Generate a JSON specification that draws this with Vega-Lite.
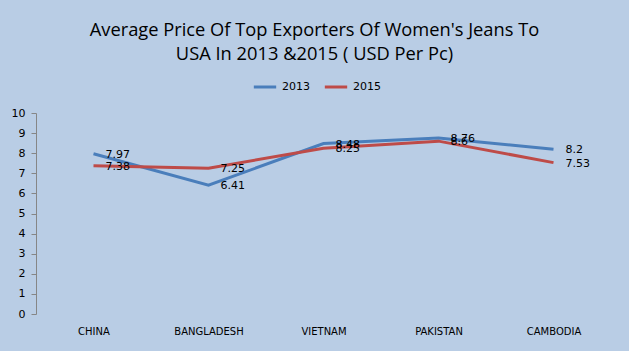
{
  "$schema": "https://vega.github.io/schema/vega-lite/v6.json",
  "width": 575,
  "height": 201,
  "autosize": {"type": "none"},
  "padding": {"left": 36, "top": 113, "right": 18, "bottom": 37},
  "background": "#B9CDE5",
  "title": {
    "text": ["Average Price Of Top Exporters Of Women's Jeans To", "USA In 2013 &2015 ( USD Per Pc)"],
    "font": "Open Sans",
    "fontSize": 18.3,
    "fontWeight": "normal",
    "color": "#000000",
    "anchor": "middle",
    "dx": -9,
    "offset": 52,
    "dy": 42,
    "lineHeight": 24
  },
  "data": {
    "values": [
      {"country": "CHINA", "year": "2013", "price": 7.97},
      {"country": "BANGLADESH", "year": "2013", "price": 6.41},
      {"country": "VIETNAM", "year": "2013", "price": 8.48},
      {"country": "PAKISTAN", "year": "2013", "price": 8.76},
      {"country": "CAMBODIA", "year": "2013", "price": 8.2},
      {"country": "CHINA", "year": "2015", "price": 7.38},
      {"country": "BANGLADESH", "year": "2015", "price": 7.25},
      {"country": "VIETNAM", "year": "2015", "price": 8.25},
      {"country": "PAKISTAN", "year": "2015", "price": 8.6},
      {"country": "CAMBODIA", "year": "2015", "price": 7.53}
    ]
  },
  "encoding": {
    "x": {
      "field": "country", "type": "nominal", "sort": null,
      "scale": {"paddingInner": 0, "paddingOuter": 0},
      "axis": {"title": null, "labelAngle": 0, "labelFontSize": 10, "labelFont": "DejaVu Sans", "labelColor": "#000000", "domain": false, "ticks": false, "grid": false, "labelPadding": 12}
    },
    "y": {
      "field": "price", "type": "quantitative",
      "scale": {"domain": [0, 10]},
      "axis": {"title": null, "values": [0,1,2,3,4,5,6,7,8,9,10], "grid": false, "domainColor": "#868686", "tickColor": "#868686", "tickSize": 5, "labelFontSize": 11, "labelFont": "DejaVu Sans", "labelColor": "#000000", "labelPadding": 6}
    },
    "color": {
      "field": "year", "type": "nominal",
      "scale": {"domain": ["2013", "2015"], "range": ["#4A7EBB", "#BE4B48"]},
      "legend": {"title": null, "orient": "none", "legendX": 216, "legendY": -39, "direction": "horizontal", "symbolType": "stroke", "symbolStrokeWidth": 3, "symbolSize": 500, "labelFontSize": 11, "labelFont": "DejaVu Sans", "columnPadding": 8}
    }
  },
  "layer": [
    {"mark": {"type": "line", "strokeWidth": 3}},
    {"mark": {"type": "text", "align": "left", "dx": 12, "dy": 1, "fontSize": 11, "font": "DejaVu Sans", "color": "#000000"},
     "encoding": {"text": {"field": "price", "type": "quantitative"}, "color": {"value": "#000000"}}}
  ],
  "config": {
    "view": {"stroke": null},
    "axisX": {"domain": false}
  }
}
